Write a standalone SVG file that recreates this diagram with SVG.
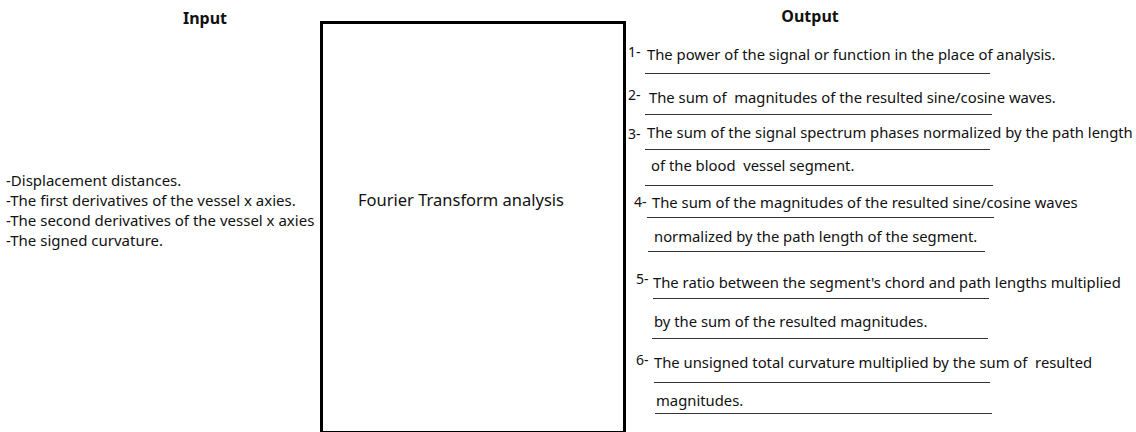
<svg xmlns="http://www.w3.org/2000/svg" width="1136" height="432" viewBox="0 0 1136 432">
<style>
text{font-family:"Noto Sans","Open Sans","Liberation Sans",sans-serif;fill:#111;white-space:pre}
.h{font-size:16px;font-weight:bold;text-anchor:middle}
.in{font-size:15px}
.o{font-size:14.8px}
.n{font-size:14px}
.ul{stroke:#333;stroke-width:1.2}
</style>
<rect width="1136" height="432" fill="#fff"/>
<g id="input">
<text class="h" x="205" y="24">Input</text>
<text class="in" x="6" y="186">-Displacement distances.</text>
<text class="in" x="6" y="206">-The first derivatives of the vessel x axies.</text>
<text class="in" x="6" y="226">-The second derivatives of the vessel x axies</text>
<text class="in" x="6" y="246">-The signed curvature.</text>
</g>
<g id="fourier">
<rect x="321.5" y="22.5" width="303" height="410" fill="#fff" stroke="#000" stroke-width="3"/>
<text x="461" y="206" style="font-size:16.5px;text-anchor:middle">Fourier Transform analysis</text>
</g>
<g id="output">
<text class="h" x="810" y="22">Output</text>
<text class="n" x="628" y="57">1-</text>
<text class="o" x="647" y="60">The power of the signal or function in the place of analysis.</text>
<text class="n" x="628" y="100">2-</text>
<text class="o" x="649" y="103" xml:space="preserve">The sum of  magnitudes of the resulted sine/cosine waves.</text>
<text class="n" x="628" y="139">3-</text>
<text class="o" x="647" y="138">The sum of the signal spectrum phases normalized by the path length</text>
<text class="o" x="651" y="171" xml:space="preserve">of the blood  vessel segment.</text>
<text class="n" x="634" y="207">4-</text>
<text class="o" x="652" y="208">The sum of the magnitudes of the resulted sine/cosine waves</text>
<text class="o" x="654" y="242">normalized by the path length of the segment.</text>
<text class="n" x="636" y="284">5-</text>
<text class="o" x="653" y="288">The ratio between the segment's chord and path lengths multiplied</text>
<text class="o" x="654" y="327">by the sum of the resulted magnitudes.</text>
<text class="n" x="636" y="365">6-</text>
<text class="o" x="654" y="368" xml:space="preserve">The unsigned total curvature multiplied by the sum of  resulted</text>
<text class="o" x="656" y="406">magnitudes.</text>
</g>
<g id="underlines">
<line class="ul" x1="645" y1="73.5" x2="990" y2="73.5"/>
<line class="ul" x1="645" y1="114.5" x2="992" y2="114.5"/>
<line class="ul" x1="645" y1="149.5" x2="990" y2="149.5"/>
<line class="ul" x1="645" y1="185.5" x2="993" y2="185.5"/>
<line class="ul" x1="647" y1="217.5" x2="994" y2="217.5"/>
<line class="ul" x1="648" y1="251.5" x2="985" y2="251.5"/>
<line class="ul" x1="653" y1="298.5" x2="989" y2="298.5"/>
<line class="ul" x1="652" y1="338.5" x2="988" y2="338.5"/>
<line class="ul" x1="654" y1="382.5" x2="990" y2="382.5"/>
<line class="ul" x1="655" y1="413.5" x2="992" y2="413.5"/>
</g>
</svg>
